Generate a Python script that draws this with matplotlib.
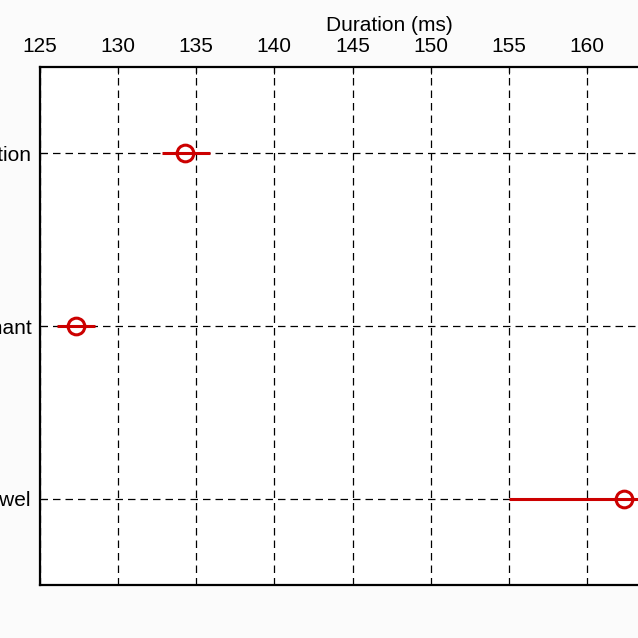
import numpy as np
import matplotlib
matplotlib.use("Agg")
import matplotlib.pyplot as plt

plt.rcParams["font.family"] = ["Liberation Sans", "DejaVu Sans"]

# categories (top to bottom as they appear) and duration estimates
categories = ["transition", "consonant", "vowel"]
means = [134.3, 127.3, 162.4]
err_low = [132.8, 126.1, 155.0]
err_high = [135.9, 128.5, 169.8]
xticks = [125, 130, 135, 140, 145, 150, 155, 160]

fig = plt.figure(figsize=(6.38, 6.38), dpi=100)
fig.patch.set_facecolor("#fbfbfb")
ax = fig.add_axes([40 / 638, 1 - 585 / 638, 600 / 638, 518 / 638])
ax.set_facecolor("white")

ypos = np.arange(len(categories), 0, -1)
means = np.array(means)
xerr = np.vstack([means - np.array(err_low), np.array(err_high) - means])
ax.errorbar(means, ypos, xerr=xerr, fmt="o", color="#cc0000", mfc="none",
            mec="#cc0000", ms=12, mew=2.2, elinewidth=2.2, capsize=0, zorder=3)

ax.set_xlim(125, 163.4)
ax.set_ylim(0.5, len(categories) + 0.5)
ax.set_xticks(xticks)
ax.set_yticks(ypos)
ax.set_yticklabels(categories)
ax.xaxis.tick_top()
ax.set_xlabel("Duration (ms)", fontsize=15)
# the label sits off-centre in the reference (the plot runs past the right edge)
ax.xaxis.set_label_coords(349 / 600, 1.098)
ax.tick_params(axis="x", direction="in", labelsize=15, pad=8, length=5)
ax.tick_params(axis="y", direction="in", labelsize=15, length=5, pad=6)
ax.grid(True, color="black", linestyle=(0, (6, 4)), linewidth=0.9)
ax.set_axisbelow(True)
for s in ax.spines.values():
    s.set_linewidth(1.6)

fig.savefig("out.png", dpi=100, facecolor=fig.get_facecolor())
